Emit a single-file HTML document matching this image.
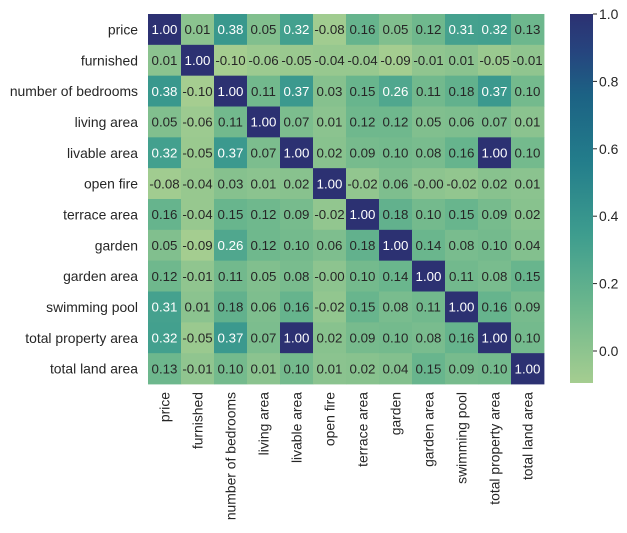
<!DOCTYPE html>
<html><head><meta charset="utf-8"><style>
html,body{margin:0;padding:0;background:#fff;}
svg{display:block;font-family:"Liberation Sans",Arial,sans-serif;}
</style></head><body>
<svg id="chart" width="627" height="533" viewBox="0 0 627 533">
<defs>
<linearGradient id="cbgrad" x1="0" y1="1" x2="0" y2="0">
<stop offset="0" stop-color="#a5cd90"/><stop offset="0.2" stop-color="#6eb88d"/><stop offset="0.4" stop-color="#3e9d8e"/><stop offset="0.6" stop-color="#237d8b"/><stop offset="0.78" stop-color="#1c6284"/><stop offset="0.9" stop-color="#26447e"/><stop offset="1" stop-color="#2c3172"/>
</linearGradient>
</defs>
<g id="cells"></g>
<g id="ylabels"></g>
<g id="xlabels"></g>
<rect x="570" y="14" width="23" height="369" fill="url(#cbgrad)"/>
<g id="cbticks"></g>
</svg>
<script>
const labels = ["price","furnished","number of bedrooms","living area","livable area","open fire","terrace area","garden","garden area","swimming pool","total property area","total land area"];
const row0 = [1.00,0.01,0.38,0.05,0.32,-0.08,0.16,0.05,0.12,0.31,0.32,0.13];
const row1 = [0.01,1.00,-0.10,-0.06,-0.05,-0.04,-0.04,-0.09,-0.01,0.01,-0.05,-0.01];
const row2 = [0.38,-0.10,1.00,0.11,0.37,0.03,0.15,0.26,0.11,0.18,0.37,0.10];
const row3 = [0.05,-0.06,0.11,1.00,0.07,0.01,0.12,0.12,0.05,0.06,0.07,0.01];
const row4 = [0.32,-0.05,0.37,0.07,1.00,0.02,0.09,0.10,0.08,0.16,1.00,0.10];
const row5 = [-0.08,-0.04,0.03,0.01,0.02,1.00,-0.02,0.06,-0.00,-0.02,0.02,0.01];
const row6 = [0.16,-0.04,0.15,0.12,0.09,-0.02,1.00,0.18,0.10,0.15,0.09,0.02];
const row7 = [0.05,-0.09,0.26,0.12,0.10,0.06,0.18,1.00,0.14,0.08,0.10,0.04];
const row8 = [0.12,-0.01,0.11,0.05,0.08,-0.00,0.10,0.14,1.00,0.11,0.08,0.15];
const row9 = [0.31,0.01,0.18,0.06,0.16,-0.02,0.15,0.08,0.11,1.00,0.16,0.09];
const row10 = [0.32,-0.05,0.37,0.07,1.00,0.02,0.09,0.10,0.08,0.16,1.00,0.10];
const row11 = [0.13,-0.01,0.10,0.01,0.10,0.01,0.02,0.04,0.15,0.09,0.10,1.00];
const matrix = [row0,row1,row2,row3,row4,row5,row6,row7,row8,row9,row10,row11];
const cbTicks = [0.0,0.2,0.4,0.6,0.8,1.0];
const cbTickLabels = ["0.0","0.2","0.4","0.6","0.8","1.0"];
const vmin = -0.095, vmax = 1.0;

const NS="http://www.w3.org/2000/svg";
const X0=148, X1=544, Y0=14, Y1=384;
const FS=13.9, AFS=13.3;
const cw=(X1-X0)/labels.length, ch=(Y1-Y0)/labels.length;
const stops=[[0,[165,205,144]],[0.2,[110,184,141]],[0.4,[62,157,142]],[0.6,[35,125,139]],[0.78,[28,98,132]],[0.9,[38,68,126]],[1,[44,49,114]]];
function color(v){let t=(v-vmin)/(vmax-vmin);t=Math.max(0,Math.min(1,t));
 for(let i=1;i<stops.length;i++){if(t<=stops[i][0]){const a=stops[i-1],b=stops[i];const f=(t-a[0])/(b[0]-a[0]);
 const c=a[1].map((x,k)=>Math.round(x+(b[1][k]-x)*f));return `rgb(${c.join(',')})`;}}return 'rgb(44,49,114)';}
function xS(j){return X0+j*cw;} function yS(i){return Y0+i*ch;}
function cbY(v){return 383-(v-vmin)/(vmax-vmin)*369;}
function mk(tag,attrs){const e=document.createElementNS(NS,tag);for(const k in attrs)e.setAttribute(k,attrs[k]);return e;}
const gc=document.getElementById('cells');
matrix.forEach((row,i)=>row.forEach((v,j)=>{
 const r=mk('rect',{x:xS(j),y:yS(i),width:cw+0.4,height:ch+0.4,fill:color(v)});
 
 
 gc.appendChild(r);
 const t=mk('text',{x:xS(j)+cw/2,y:yS(i)+ch/2+4.8,'text-anchor':'middle','font-size':AFS,fill:v>0.22?'#fff':'#262626'});
 
 
 let s=v.toFixed(2); if(s==='0.00'&&Object.is(v,-0))s='-0.00'; t.textContent=s; gc.appendChild(t);
}));
const gy=document.getElementById('ylabels'), gx=document.getElementById('xlabels');
labels.forEach((l,i)=>{
 const t=mk('text',{x:X0-10,y:yS(i)+ch/2+5,'text-anchor':'end','font-size':FS,fill:'#262626'});
 
 
 t.textContent=l; gy.appendChild(t);
 const cx=xS(i)+cw/2+5;
 const u=mk('text',{x:cx,y:Y1+8,'text-anchor':'end','font-size':FS,fill:'#262626',transform:`rotate(-90 ${cx} ${Y1+8})`});
 
 
 u.textContent=l; gx.appendChild(u);
});
const gt=document.getElementById('cbticks');
cbTicks.forEach((v,k)=>{const y=cbY(v);
 const ln=mk('line',{x1:593,x2:597,y1:y,y2:y,stroke:'#262626','stroke-width':1});
 
 
 gt.appendChild(ln);
 const t=mk('text',{x:599,y:y+5,'font-size':FS,fill:'#262626'});
 
 
 t.textContent=cbTickLabels[k]; gt.appendChild(t);
});
</script>
</body></html>
